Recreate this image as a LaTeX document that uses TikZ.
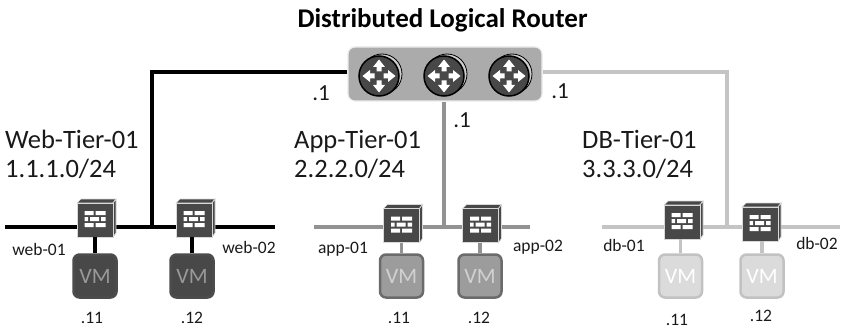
\documentclass[tikz,border=0pt]{standalone}
\usepackage{fontspec}
\setmainfont{Carlito}
\tikzset{
  x=1pt,y=-1pt,
  lbl/.style={inner sep=0pt,text=black!90,font=\fontsize{17.5}{21}\selectfont},
  addr/.style={inner sep=0pt,text=black!90,font=\fontsize{23}{27}\selectfont},
  tier/.style={inner sep=0pt,align=left,text=black!90,font=\fontsize{26.5}{29}\selectfont},
  vmbox/.style n args={3}{draw=#2,line width=2.5pt,fill=#1,rounded corners=6pt,minimum size=43pt,inner sep=0pt,text=#3,font=\fontsize{22}{26}\selectfont},
  fwbox/.style={draw=black!15,line width=.9pt,fill=fwgray,minimum width=36pt,minimum height=34pt,inner sep=0pt},
  routerbox/.style={draw=black!8,line width=1.2pt,fill=panelgray,rounded corners=7pt,minimum width=194pt,minimum height=54pt,inner sep=0pt},
  routernode/.style={circle,draw=black,line width=1.5pt,fill=fwgray,minimum size=40pt,inner sep=0pt},
  link/.style={line width=3.6pt,draw=#1},
}
\definecolor{fwgray}{HTML}{484848}
\definecolor{panelgray}{HTML}{ABABAB}
\newcommand{\fwicon}[2]{%
  \begin{scope}[shift={(#2)}]
    \fill[fwgray,draw=black!15,line width=.7pt] (-18,-17) -- (-14,-21) -- (21,-21) -- (18,-17) -- cycle;
    \fill[fwgray,draw=black!15,line width=.7pt] (18,-17) -- (21,-21) -- (21,13) -- (18,17) -- cycle;
  \end{scope}
  \node[fwbox] (#1) at (#2) {};
  \begin{scope}[shift={(#2)}]
    \fill[white]
      (-10.5,-9) rectangle (-1.5,-5) (.5,-9) rectangle (10.5,-5)
      (-10.5,-3) rectangle (-7,1) (-5,-3) rectangle (4,1) (6,-3) rectangle (10.5,1)
      (-10.5,3) rectangle (-1.5,7) (.5,3) rectangle (10.5,7);
  \end{scope}}
\newcommand{\routericon}[2]{%
  \begin{scope}[shift={(#2)}]
    \draw[black,line width=.8pt,fill=panelgray!60!white] (3,-2) circle[radius=20];
  \end{scope}
  \node[routernode] (#1) at (#2) {};
  \begin{scope}[shift={(#2)}]
    \foreach \a in {0,90,180,270}{
      \fill[white,rotate=\a] (-2.5,-4.5) -- (-2.5,-9) -- (-6,-9) -- (0,-16.5) -- (6,-9) -- (2.5,-9) -- (2.5,-4.5) -- cycle;
    }
  \end{scope}}
\begin{document}
\begin{tikzpicture}
\useasboundingbox (0,0) rectangle (844,329);
\definecolor{dbgray}{HTML}{C4C4C4}
\definecolor{appgray}{HTML}{929292}
\definecolor{vmapp}{HTML}{9C9C9C}

% title
\node[inner sep=0pt,font=\fontsize{27}{31}\selectfont\bfseries] (title) at (442.5,20) {Distributed Logical Router};

% coordinates for free ends and corners
\coordinate (webL) at (5,227);
\coordinate (webR) at (275,227);
\coordinate (webT) at (152,227);
\coordinate (appL) at (314,227);
\coordinate (appR) at (530,227);
\coordinate (appT) at (444,227);
\coordinate (dbL) at (602,227);
\coordinate (dbR) at (840,227);
\coordinate (dbT) at (727,227);

% segments
\draw[link=black] (webL) -- (webR);
\draw[link=appgray] (appL) -- (appR);
\draw[link=dbgray] (dbL) -- (dbR);

% uplinks
\coordinate (upY) at (0,72);
\node[routerbox] (dlr) at (445,74) {};
\draw[link=black] (dlr.west |- upY) -| (webT);
\draw[link=appgray] (dlr.south -| appT) -- (appT);
\draw[link=dbgray] (dlr.east |- upY) -| (dbT);

% routers
\routericon{r1}{379,76}
\routericon{r2}{444,76}
\routericon{r3}{509,76}

% firewalls
\fwicon{fw1}{95,220}
\fwicon{fw2}{194,220}
\fwicon{fw3}{401.5,225.5}
\fwicon{fw4}{480.5,225.5}
\fwicon{fw5}{682,222}
\fwicon{fw6}{760,224}

% VMs
\node[vmbox={fwgray}{black!70}{white!60!black}] (vm1) at (95,276) {VM};
\node[vmbox={fwgray}{black!70}{white!60!black}] (vm2) at (192,276) {VM};
\node[vmbox={vmapp}{black!58}{white!82!black}] (vm3) at (401.5,276) {VM};
\node[vmbox={vmapp}{black!58}{white!82!black}] (vm4) at (480,276) {VM};
\node[vmbox={black!14}{black!24}{white}] (vm5) at (680.5,276) {VM};
\node[vmbox={black!14}{black!24}{white}] (vm6) at (762,276) {VM};

\draw[link=black] (fw1.south -| vm1) -- (vm1.north);
\draw[link=black] (fw2.south -| vm2) -- (vm2.north);
\draw[link=appgray] (fw3.south -| vm3) -- (vm3.north);
\draw[link=appgray] (fw4.south -| vm4) -- (vm4.north);
\draw[link=dbgray] (fw5.south -| vm5) -- (vm5.north);
\draw[link=dbgray] (fw6.south -| vm6) -- (vm6.north);

% tier labels
\node[tier,anchor=west] (t1) at (5,154) {Web-Tier-01\\1.1.1.0/24};
\node[tier,anchor=west] (t2) at (294,154) {App-Tier-01\\2.2.2.0/24};
\node[tier,anchor=west] (t3) at (582,154) {DB-Tier-01\\3.3.3.0/24};

% interface labels
\node[addr] (a1) at (321,93) {.1};
\node[addr] (a2) at (462,120) {.1};
\node[addr] (a3) at (560,91) {.1};
\node[lbl] (n1) at (39,249) {web-01};
\node[lbl] (n2) at (249,247) {web-02};
\node[lbl] (n3) at (343,249) {app-01};
\node[lbl] (n4) at (538,247) {app-02};
\node[lbl] (n5) at (624,245) {db-01};
\node[lbl] (n6) at (817,243) {db-02};
\node[lbl] (i1) at (92,318) {.11};
\node[lbl] (i2) at (192,318) {.12};
\node[lbl] (i3) at (399,318) {.11};
\node[lbl] (i4) at (479,318) {.12};
\node[lbl] (i5) at (677,320) {.11};
\node[lbl] (i6) at (761,316) {.12};
\end{tikzpicture}
\end{document}
